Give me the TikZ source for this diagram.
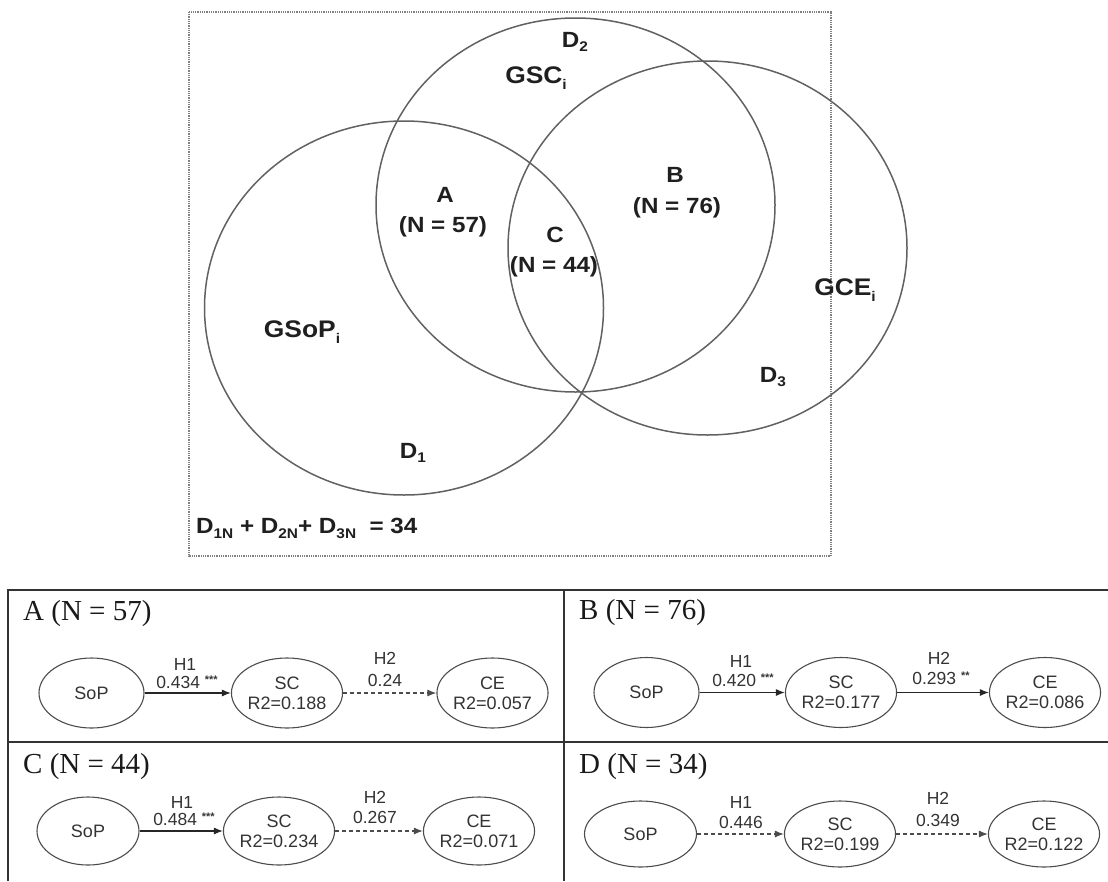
\documentclass[tikz,border=0pt]{standalone}
\usepackage{fontspec}
\setmainfont{Liberation Serif}
\newfontfamily\vennfont[FakeStretch=1.1]{Liberation Sans}
\newfontfamily\pathfont{Liberation Sans}
\usetikzlibrary{arrows.meta,shapes.geometric}
\newcommand\vsub[1]{\raisebox{-0.22em}{\fontsize{14}{14}\selectfont #1}}
\newcommand\stars[1]{\raisebox{0.3em}{\fontsize{11}{11}\selectfont\bfseries #1}}
\begin{document}
\begin{tikzpicture}[x=1pt,y=-1pt,
  venn/.style={draw=black!62, line width=1.5pt},
  frame/.style={draw=black!50, line width=1.6pt, dash pattern=on 1pt off 0.8pt},
  vlabel/.style={font=\vennfont\bfseries\fontsize{22}{25}\selectfont, text=black!88, inner sep=0pt},
  glabel/.style={font=\vennfont\bfseries\fontsize{24}{27}\selectfont, text=black!88, inner sep=0pt},
  grid/.style={draw=black!80, line width=1.3pt},
  ptitle/.style={font=\fontsize{29}{32}\selectfont, text=black!90, inner sep=0pt, anchor=base west},
  latent/.style={ellipse, draw=black!70, line width=1.1pt, minimum width=105pt, minimum height=70pt, inner sep=0pt, align=center, font=\pathfont\fontsize{18}{20}\selectfont, text=black!80},
  elabel/.style={font=\pathfont\fontsize{17.5}{20}\selectfont, text=black!80, inner sep=0pt},
  sig/.style={draw=black!85, line width=1.1pt, -{Latex[length=9pt,width=7pt]}},
  nonsig/.style={draw=black!70, line width=1.1pt, dash pattern=on 4pt off 3pt, -{Latex[length=9pt,width=7pt]}}
]
\useasboundingbox (0,0) rectangle (1108,881);

% ---------- Venn diagram ----------
\draw[frame] (189,12) rectangle (831,556);
\draw[venn] (404,308) ellipse [x radius=199.5, y radius=187];
\draw[venn] (575.5,205) ellipse [x radius=199.5, y radius=187];
\draw[venn] (707.5,248) ellipse [x radius=199.5, y radius=187];

\node[vlabel] (d2) at (575,42) {D\vsub{2}};
\node[glabel] (gsc) at (536,78) {GSC\vsub{i}};
\node[glabel] (gsop) at (302,332) {GSoP\vsub{i}};
\node[glabel] (gce) at (845,290) {GCE\vsub{i}};
\node[vlabel] (la) at (445,195) {A};
\node[vlabel] (na) at (443,227) {(N = 57)};
\node[vlabel] (lc) at (555,235) {C};
\node[vlabel] (nc) at (554,267) {(N = 44)};
\node[vlabel] (lb) at (675,175) {B};
\node[vlabel] (nb) at (677,208) {(N = 76)};
\node[vlabel] (d3) at (773,377) {D\vsub{3}};
\node[vlabel] (d1) at (413,453) {D\vsub{1}};
\node[vlabel, anchor=west] (dsum) at (196,528) {D\vsub{1N} + D\vsub{2N}+ D\vsub{3N} \ = 34};

% ---------- Table ----------
\draw[grid] (8,881) -- (8,590) -- (1108,590);
\draw[grid] (564,590) -- (564,881);
\draw[grid] (8,742) -- (1108,742);

% Panel A
\node[ptitle] (ta) at (23,620) {A (N = 57)};
\node[latent] (sopA) at (91.5,693) {SoP};
\node[latent] (scA) at (287,693) {SC\\R2=0.188};
\node[latent] (ceA) at (492.5,693) {CE\\R2=0.057};
\draw[sig] (sopA) -- (scA);
\draw[nonsig] (scA) -- (ceA);
\node[elabel] (h1A) at (185,664) {H1};
\node[elabel] (b1A) at (187,682) {0.434 \stars{***}};
\node[elabel] (h2A) at (385,658) {H2};
\node[elabel] (b2A) at (385,680) {0.24};

% Panel B
\node[ptitle] (tb) at (579,619) {B (N = 76)};
\node[latent] (sopB) at (646.5,692.5) {SoP};
\node[latent] (scB) at (841,692.5) {SC\\R2=0.177};
\node[latent] (ceB) at (1045,692.5) {CE\\R2=0.086};
\draw[sig] (sopB) -- (scB);
\draw[sig] (scB) -- (ceB);
\node[elabel] (h1B) at (741,661) {H1};
\node[elabel] (b1B) at (743,680) {0.420 \stars{***}};
\node[elabel] (h2B) at (939,658) {H2};
\node[elabel] (b2B) at (941,678) {0.293 \stars{**}};

% Panel C
\node[ptitle] (tc) at (23,773) {C (N = 44)};
\node[latent, minimum width=102pt, minimum height=68pt] (sopC) at (88,831) {SoP};
\node[latent, minimum width=102pt, minimum height=68pt] (scC) at (279,831) {SC\\R2=0.234};
\node[latent, minimum width=102pt, minimum height=68pt] (ceC) at (479,831) {CE\\R2=0.071};
\draw[sig] (sopC) -- (scC);
\draw[nonsig] (scC) -- (ceC);
\node[elabel] (h1C) at (182,802) {H1};
\node[elabel] (b1C) at (184,819) {0.484 \stars{***}};
\node[elabel] (h2C) at (375,797) {H2};
\node[elabel] (b2C) at (375,817) {0.267};

% Panel D
\node[ptitle] (td) at (579,773) {D (N = 34)};
\node[latent, minimum width=112pt, minimum height=66pt] (sopD) at (640.5,834) {SoP};
\node[latent, minimum width=102pt, minimum height=66pt] (scD) at (840,834) {SC\\R2=0.199};
\node[latent, minimum width=104pt, minimum height=66pt] (ceD) at (1044,834) {CE\\R2=0.122};
\draw[nonsig] (sopD) -- (scD);
\draw[nonsig] (scD) -- (ceD);
\node[elabel] (h1D) at (741,802) {H1};
\node[elabel] (b1D) at (741,822) {0.446};
\node[elabel] (h2D) at (938,798) {H2};
\node[elabel] (b2D) at (938,820) {0.349};
\end{tikzpicture}
\end{document}
